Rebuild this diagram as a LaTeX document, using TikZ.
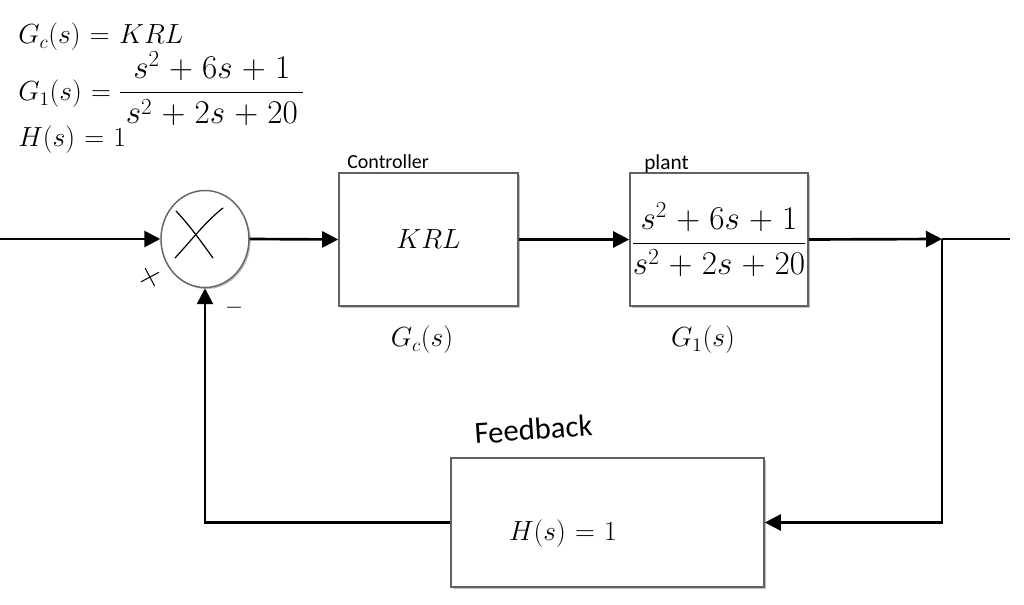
\documentclass[tikz,border=0pt]{standalone}
\usepackage{amsmath}
\usepackage{fontspec}
\usetikzlibrary{arrows.meta,shapes.geometric,shadows,calc}
\newfontfamily\hand{Carlito}
\medmuskip=5mu plus 2mu minus 2mu
\thickmuskip=6mu plus 3mu minus 1mu
\begin{document}
\begin{tikzpicture}[x=0.75pt,y=-0.75pt,
  ln/.style={line width=2pt,black},
  arr/.style={ln,-{Triangle[length=12pt,width=12pt]}},
  blk/.style={draw=black!62,line width=1.2pt,fill=white,inner sep=0pt,
    drop shadow={shadow xshift=1.2pt,shadow yshift=-1.2pt,fill=black,opacity=0.25}},
  mth/.style={inner sep=0pt,font=\fontsize{22.5}{26}\selectfont},
  frc/.style={inner sep=0pt,font=\fontsize{24}{28}\selectfont},
  hw/.style={inner sep=0pt,font=\hand\fontsize{15}{18}\selectfont}]
\fill[white] (0,0) rectangle (1024,605);
\useasboundingbox (0,0) rectangle (1024,605);

% equations top-left
\node[mth,anchor=base west] (eqgc) at (18,44) {$G_c(s) = KRL$};
\node[mth,anchor=base west] (eqg1) at (18,101) {$G_1(s) =$};
\node[frc,anchor=base west] (eqg1f) at ($(eqg1.base east)+(7,0)$) {$\dfrac{s^2+6s+1}{\,s^2+2s+20\,}$};
\node[mth,anchor=base west] (eqh) at (18,147) {$H(s) = 1$};

% summing junction
\node[blk,shape=ellipse,draw=black!60,line width=1.1pt,minimum width=66pt,minimum height=72.75pt] (sum) at (205,239) {};
\draw[line width=0.9pt,line cap=round] (176,211) .. controls (190,226) and (200,240) .. (213,258);
\draw[line width=0.9pt,line cap=round] (223,208) .. controls (205,222) and (190,242) .. (175,258);

% blocks
\node[blk,minimum width=134.25pt,minimum height=99.75pt,mth] (ctrl) at (428.5,239.5) {$KRL$};
\node[blk,minimum width=133.5pt,minimum height=99.75pt,frc] (plant) at (719,239.5) {$\dfrac{s^2+6s+1}{s^2+2s+20}$};
\node[blk,minimum width=234.75pt,minimum height=96.75pt] (fb) at (607.5,522.5) {};
\node[mth,anchor=base] (hs) at (563,540) {$H(s) = 1$};

% labels
\node[hw,anchor=base west] (lctrl) at (347,169) {Controller};
\node[hw,anchor=base west,font=\hand\fontsize{16}{18}\selectfont] (lplant) at (644,170) {plant};
\node[hw,anchor=base west,font=\hand\fontsize{23}{26}\selectfont,rotate=4] (lfb) at (475,444) {Feedback};
\node[mth,anchor=base] (lgc) at (422,347) {$G_c(s)$};
\node[mth,anchor=base] (lg1) at (703,347) {$G_1(s)$};
\node[inner sep=0pt,font=\fontsize{26}{28}\selectfont,rotate=28] (lplus) at (150,278) {$+$};
\node[inner sep=0pt,font=\fontsize{19}{22}\selectfont] (lminus) at (234,308) {$-$};

% connectors
\coordinate (in) at (0,239);
\coordinate (junc) at (942,239);
\coordinate (out) at (1010,239);
\draw[arr] (in) -- (sum.west);
\draw[arr] (sum.east) -- (ctrl.west);
\draw[arr] (ctrl.east) -- (plant.west);
\draw[arr] (plant.east) -- (junc);
\draw[ln] (junc) -- (out);
\draw[arr] (junc) |- (fb.east);
\draw[arr] (fb.west) -| (sum.south);
\end{tikzpicture}
\end{document}
